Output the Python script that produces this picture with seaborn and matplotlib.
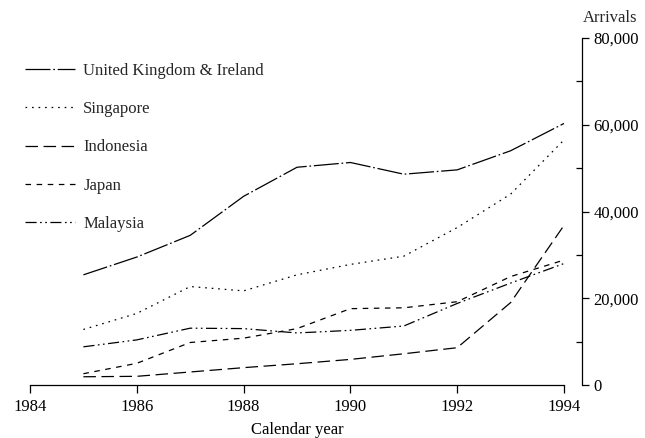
import matplotlib
matplotlib.use("Agg")
import matplotlib.pyplot as plt
import pandas as pd
import seaborn as sns
from matplotlib.ticker import FuncFormatter, MultipleLocator

years = [1985, 1986, 1987, 1988, 1989, 1990, 1991, 1992, 1993, 1994]
uk_ireland = [25400, 29500, 34500, 43500, 50200, 51300, 48600, 49600, 54000, 60300]
singapore = [12800, 16500, 22700, 21700, 25400, 27800, 29700, 36300, 44000, 56500]
indonesia = [1900, 2000, 3000, 4000, 4900, 5900, 7200, 8600, 19000, 36800]
japan = [2600, 5000, 9800, 10800, 13000, 17600, 17800, 19200, 25000, 28800]
malaysia = [8800, 10400, 13100, 13000, 12000, 12600, 13600, 18800, 23500, 28000]
countries = ["United Kingdom & Ireland", "Singapore", "Indonesia", "Japan", "Malaysia"]
x_ticks = [1984, 1986, 1988, 1990, 1992, 1994]
y_ticks = [0, 20000, 40000, 60000, 80000]

series = [uk_ireland, singapore, indonesia, japan, malaysia]
rows = []
for name, vals in zip(countries, series):
    for yr, v in zip(years, vals):
        rows.append({"year": yr, "arrivals": v, "country": name})
df = pd.DataFrame(rows)

sns.set_theme(style="ticks")
plt.rcParams["font.family"] = ["Liberation Serif", "DejaVu Serif"]
plt.rcParams["lines.scale_dashes"] = False

fig = plt.figure(figsize=(6.45, 4.38), dpi=100)
ax = fig.add_axes([30 / 645, 1 - 385 / 438, (564 - 30) / 645, (385 - 38) / 438])

dashes = {
    "United Kingdom & Ireland": (18, 2, 1.2, 2),
    "Singapore": (1.2, 3.5),
    "Indonesia": (9, 4),
    "Japan": (4, 4),
    "Malaysia": (8, 2.5, 1.2, 2.5, 1.2, 2.5),
}
sns.lineplot(data=df, x="year", y="arrivals", style="country", style_order=countries,
             dashes=dashes, color="black", linewidth=0.9, ax=ax, legend="full")
for ln in ax.lines:
    ln.set_clip_on(False)

ax.set_xlim(1984, 1994)
ax.set_ylim(0, 80000)
ax.set_xticks(x_ticks)
ax.set_yticks(y_ticks)
ax.yaxis.set_minor_locator(MultipleLocator(10000))
ax.yaxis.set_major_formatter(FuncFormatter(lambda v, p: f"{int(v):,}"))
ax.yaxis.tick_right()
ax.spines["left"].set_visible(False)
ax.spines["top"].set_visible(False)
ax.spines["right"].set_position(("outward", 13))
ax.spines["bottom"].set_bounds(1984, 1994)
for s in ("right", "bottom"):
    ax.spines[s].set_linewidth(0.9)
    ax.spines[s].set_color("black")
ax.tick_params(axis="y", which="major", direction="out", length=5, width=0.9,
               labelsize=12, pad=3, colors="black", right=True, left=False)
ax.tick_params(axis="y", which="minor", direction="in", length=4, width=0.9,
               right=True, left=False, colors="black")
ax.tick_params(axis="x", direction="out", length=6, width=0.9, labelsize=12, pad=4, colors="black")
ax.set_ylabel("")
ax.set_xlabel("Calendar year", fontsize=12, labelpad=5, color="black")
fig.text(583 / 645, 1 - 18 / 438, "Arrivals", ha="left", va="center", fontsize=12)

sns.move_legend(ax, "upper left", bbox_to_anchor=(25 / 645, 1 - 63 / 438),
                bbox_transform=fig.transFigure, frameon=False, title=None,
                fontsize=12, handlelength=3.0, handletextpad=0.5,
                labelspacing=1.33, borderpad=0, borderaxespad=0)

fig.savefig("out.png", dpi=100)
